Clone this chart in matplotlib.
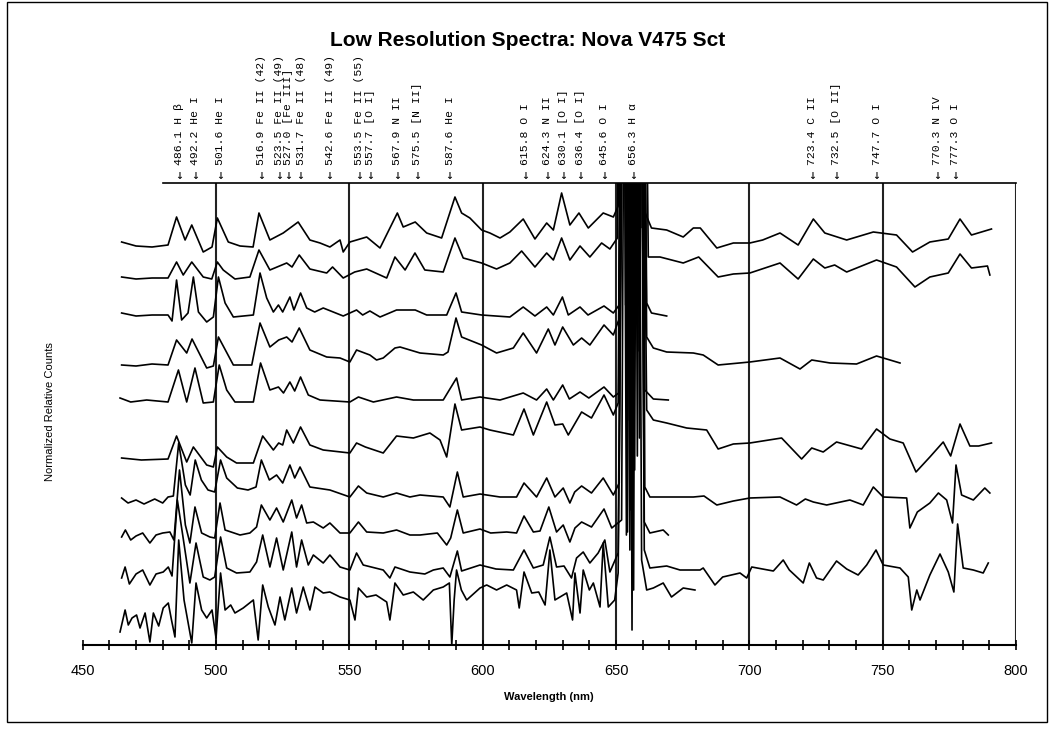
import numpy as np
import matplotlib
matplotlib.use("Agg")
import matplotlib.pyplot as plt
from matplotlib.patches import Rectangle
from matplotlib.ticker import MultipleLocator
from matplotlib.transforms import blended_transform_factory

plt.rcParams["font.family"] = ["Liberation Sans", "DejaVu Sans"]

title = "Low Resolution Spectra: Nova V475 Sct"

# identified emission lines (nm) and their labels
line_wl = [486.1, 492.2, 501.6, 516.9, 523.5, 527.0, 531.7, 542.6, 553.5, 557.7,
           567.9, 575.5, 587.6, 615.8, 624.3, 630.1, 636.4, 645.6, 656.3, 723.4,
           732.5, 747.7, 770.3, 777.3]
line_names = ["H \u03b2", "He I", "He I", "Fe II (42)", "Fe II (49)", "[Fe III]",
              "Fe II (48)", "Fe II (49)", "Fe II (55)", "[O I]", "N II", "[N II]",
              "He I", "O I", "N II", "[O I]", "[O I]", "O I", "H \u03b1", "C II",
              "[O II]", "O I", "N IV", "O I"]

# spectra, top to bottom: (wavelength nm, relative counts above own continuum)
spec_1 = [(464.6, 0.3), (470, -0.1), (476, -0.2), (482, 0.0), (485.2, 2.8), (488.4, 0.5),
          (490.9, 2.0), (495.2, -0.7), (498.5, -0.2), (500.5, 2.7), (504.6, 0.3), (509, -0.1),
          (513.9, -0.2), (516.1, 3.2), (520.2, 0.5), (525.2, 1.2), (530.8, 2.3), (535.2, 0.5),
          (539, 0.2), (542.7, -0.2), (546.5, 0.5), (547.7, -0.7), (550.2, 0.3), (556.5, 0.8),
          (561.5, -0.3), (568, 3.2), (570.2, 1.8), (574.7, 2.3), (579, 1.2), (584.6, 0.7),
          (589.6, 4.8), (592.1, 3.2), (595.2, 2.7), (599.6, 1.5), (602.7, 1.2), (606.5, 0.7),
          (610.2, 1.3), (615.2, 2.6), (619.6, 0.6), (624, 2.2), (626.5, 1.5), (629.6, 5.2),
          (632.7, 2.0), (636.1, 3.2), (639.6, 1.7), (645.2, 3.2), (649, 2.8), (651, 4.0),
          (652.2, 50), (653.8, 50), (654.5, 3.0), (655.2, 50), (656.4, 50), (657.0, -1.8),
          (657.6, 50), (659.3, 50), (660.8, 3.3),
          (663.3, 1.7), (669, 1.5), (675.2, 0.8), (679, 1.7), (681.6, 1.7), (687.8, -0.3),
          (694, 0.2), (700.2, 0.2), (705, 0.5), (711.5, 1.2), (718.3, 0.0), (724, 2.6),
          (728.3, 1.2), (736.5, 0.5), (746.5, 1.3), (755.2, 1.0), (761.2, -0.7), (767.7, 0.3),
          (774.6, 0.6), (779, 2.6), (783.3, 1.0), (790.8, 1.6)]

spec_2 = [(464.6, 0.1), (470, -0.1), (476, 0.0), (482, 0.0), (485.2, 1.6), (487.7, 0.3),
          (490.9, 1.6), (495.2, 0.1), (498.4, -0.1), (500.5, 1.6), (502.7, 0.8), (507.1, -0.1),
          (512.7, 0.1), (516.1, 2.8), (520.2, 0.8), (526.5, 1.5), (528.5, 1.1), (531.2, 2.3),
          (535.2, 0.9), (541.5, 0.5), (543.7, 1.1), (547.7, 0.0), (552, 0.6), (556.5, 0.9),
          (564, 0.0), (567.1, 2.1), (570.9, 0.8), (574.6, 2.5), (578.3, 0.8), (585.2, 0.6),
          (589.6, 4.0), (592.7, 2.0), (599.6, 1.5), (605.2, 0.9), (610.2, 1.5), (614.6, 2.7),
          (619.6, 1.1), (624, 2.5), (626.5, 1.8), (629.6, 4.0), (632.7, 1.8), (636.5, 3.2),
          (640.2, 2.1), (644.6, 3.5), (647.7, 2.9), (650.5, 4.0), (651.8, 50), (653.2, 50),
          (653.9, 1.0), (654.6, 50), (655.6, 50), (656.3, -2.2), (657.0, 50), (658.6, 50),
          (659.2, 5.0), (659.8, 50), (660.3, 50), (662.1, 2.1), (666.5, 2.1), (675.2, 1.5),
          (681, 2.1), (688.3, 0.1), (694, 0.4), (700.2, 0.5), (711.5, 1.5), (718.3, -0.1),
          (724, 1.9), (728.3, 1.0), (732, 1.3), (736.5, 0.6), (747.7, 1.8), (755.2, 1.1),
          (762.1, -0.9), (767.7, 0.1), (774.6, 0.5), (779, 2.4), (783.3, 1.0), (789.3, 1.2),
          (790.2, 0.3)]

spec_3 = [(464.6, 0.2), (470, -0.1), (476, 0.0), (482, 0.0), (483.5, -0.6), (485.2, 3.5),
          (487.1, -0.5), (489.5, 0.2), (491.5, 3.8), (493.4, 0.3), (496.5, -0.7), (499, -0.2),
          (500.9, 3.8), (503.4, 1.2), (506.5, -0.2), (514, 0.0), (516.5, 4.2), (519, 1.7),
          (521.5, 0.3), (523.4, 1.0), (525, 0.3), (527.7, 1.8), (529.2, 0.5), (531.7, 2.2),
          (534, 0.7), (537, 0.3), (540.2, 0.7), (547.7, -0.1), (552.7, 0.5), (555, 0.0),
          (557.7, 0.4), (561.5, -0.2), (567.7, 0.5), (574.7, 0.5), (579, 0.0), (586.5, 0.0),
          (590, 2.2), (592.1, 0.3), (599.6, 0.0), (610.2, -0.2), (615.2, 0.8), (619.6, -0.1),
          (624, 0.8), (626.5, 0.0), (629.9, 1.8), (632.1, 0.0), (636.5, 0.8), (639.5, 0.0),
          (645.5, 0.9), (649, 0.2), (651.2, 1.0), (652.4, 50), (654.0, 50), (654.8, -1.5),
          (655.6, 50), (657.8, 50), (658.4, 4.0), (659.0, 50), (660.0, 50), (661.5, 1.2),
          (663.3, 0.2), (669, -0.1)]

spec_4 = [(464.6, 0.0), (470, -0.1), (476, 0.1), (482, 0.0), (485.2, 2.5), (489, 1.2),
          (491, 2.6), (496.5, -0.3), (499, -0.1), (500.9, 2.8), (503.5, 1.5), (506.5, 0.0),
          (513.4, 0.0), (516.5, 4.2), (520.2, 1.8), (523.5, 2.5), (526.5, 2.8), (528.5, 2.3),
          (531.2, 3.7), (535.2, 1.5), (541.5, 0.8), (546.5, 0.7), (550.2, 0.3), (552.7, 1.5),
          (557.7, 1.0), (560.2, 0.5), (562.7, 0.7), (567.1, 1.7), (569, 1.8), (576.5, 1.2),
          (585.2, 1.0), (587, 1.3), (590, 4.7), (592.1, 2.8), (599.6, 2.0), (605.2, 1.2),
          (611.5, 1.7), (615.2, 3.2), (620.2, 1.2), (624.6, 3.6), (627.1, 2.0), (630, 3.8),
          (634, 2.0), (637.1, 2.7), (640.2, 2.0), (645.5, 4.0), (649, 3.0), (651, 4.5),
          (652.2, 50), (653.0, 50), (653.6, 6.0), (654.2, 50), (655.8, 50), (656.5, -1.5),
          (657.2, 50), (660.0, 50), (661.5, 2.8),
          (664, 1.7), (669, 1.3), (679, 1.2), (682.7, 1.0), (688.3, 0.0), (700.2, 0.3),
          (711.5, 0.7), (719, -0.4), (723.4, 0.5), (730.3, 0.2), (740.2, 0.1), (747.7, 0.9),
          (751.5, 0.6), (756.5, 0.2)]

spec_5 = [(464, 0.3), (468, -0.1), (474, 0.1), (482, -0.1), (485.9, 3.1), (489, -0.1),
          (492.1, 3.3), (495.2, -0.2), (499, -0.1), (501.2, 3.6), (504, 1.1), (507.1, -0.1),
          (514, -0.1), (516.7, 3.8), (520.2, 1.1), (523.4, 1.4), (525.3, 0.8), (527.7, 1.9),
          (529.5, 1.0), (531.7, 2.4), (534.6, 0.6), (539, 0.1), (550.2, -0.1), (553.4, 0.4),
          (559, -0.1), (567.7, 0.4), (574, 0.1), (585.2, 0.1), (590.2, 2.3), (592.1, 0.1),
          (599, 0.4), (606.5, 0.1), (615.2, 0.8), (620.2, 0.1), (624, 1.2), (626.5, 0.1),
          (630, 1.6), (632.5, 0.2), (636.5, 0.9), (639.8, 0.3), (645.5, 1.4), (649, 0.4),
          (651, 0.8), (652.6, 50), (654.2, 50), (655.0, -1.9), (655.7, 50), (657.5, 50),
          (658.2, 5.0), (658.8, 50), (659.8, 50), (660.8, 1.1), (664, 0.2), (669.6, 0.1)]

spec_6 = [(464.6, 0.0), (472, -0.2), (482, -0.1), (485.2, 2.2), (489, -0.4), (491.5, 1.1),
          (496.5, -0.7), (499, -0.9), (500.5, 1.1), (504, 0.1), (507.7, -0.5), (514, -0.5),
          (517.5, 2.2), (521.5, 0.8), (523.5, 1.5), (525, 1.3), (526.5, 2.8), (529, 1.5),
          (531.7, 3.1), (535.2, 1.3), (540.2, 0.8), (550.2, 0.5), (552.7, 1.5), (556, 1.1),
          (562.7, 0.5), (567.7, 2.2), (574, 2.0), (580.2, 2.5), (584, 1.8), (586.5, 0.1),
          (589.6, 5.4), (592.1, 2.8), (599, 3.1), (602.7, 2.8), (611.5, 2.3), (615.5, 4.9),
          (619, 2.3), (624, 5.6), (627.1, 3.3), (630, 3.4), (632.1, 2.3), (637.1, 4.6),
          (640.8, 4.0), (645.5, 6.3), (649, 4.3), (650.8, 5.5), (652.0, 50), (653.4, 50),
          (654.1, 3.0), (654.8, 50), (656.2, 50), (657.0, -1.2), (657.7, 50), (659.8, 50),
          (661.5, 4.8), (664, 3.8), (669, 3.5),
          (676.5, 3.0), (684, 2.8), (688.3, 0.9), (694, 1.4), (700.2, 1.5), (712.1, 2.0),
          (719.6, -0.1), (723.4, 1.0), (727.7, 0.6), (732.7, 1.6), (742.1, 0.9), (747.7, 2.9),
          (752.7, 1.9), (757.7, 1.5), (762.5, -1.4), (767.7, 0.1), (772.7, 1.6), (775.5, 0.2),
          (779, 3.4), (782.7, 1.2), (786, 1.2), (790.8, 1.5)]

spec_7 = [(464.6, 0.0), (467, -0.5), (470, -0.2), (473, -0.6), (477, -0.1), (480, -0.5),
          (482, 0.1), (484, 0.2), (486, 5.5), (488.5, 1.3), (490.3, 0.3), (492.2, 3.8),
          (494.5, 1.8), (497, 0.8), (499.5, 0.6), (501.7, 3.8), (504, 2.0), (508, 1.0),
          (512, 0.8), (515, 1.1), (517, 3.8), (520, 1.8), (522.7, 2.3), (525, 1.5),
          (527.7, 3.3), (529.5, 2.0), (531.5, 3.1), (535.2, 1.1), (542.7, 0.8), (550.2, 0.1),
          (553.4, 1.2), (556.5, 0.5), (562.7, 0.1), (567.7, 0.5), (572.7, 0.1), (576.5, 0.3),
          (585.2, 0.1), (587.7, -0.9), (590.5, 2.6), (592.7, 0.1), (599, 0.4), (606.5, 0.1),
          (612.7, 0.1), (615.5, 1.5), (620.2, 0.1), (624, 2.0), (627.1, 0.1), (630.2, 1.0),
          (632.7, -0.5), (634.5, 0.6), (637.1, 1.2), (640.8, 0.5), (645.2, 2.0), (649, 0.3),
          (651.2, 1.5), (652.4, 50), (655.0, 50), (655.6, -1.2), (656.2, 50), (658.2, 50),
          (658.8, 6.0), (659.4, 50), (660.0, 50), (660.8, 1.1), (662.7, 0.1), (669, 0.1),
          (679, 0.1), (683, 0.2), (687.8, -0.7),
          (694, -0.3), (700.2, 0.0), (711.5, 0.1), (717.7, -0.7), (721, -0.1), (724, -0.4),
          (729, -0.7), (737.7, -0.2), (742.7, -0.7), (746.5, 1.1), (750.2, 0.1), (759, 0.0),
          (760.2, -3.0), (763, -1.4), (767.7, -0.5), (770.9, 0.5), (774, -0.2), (776.2, -2.5),
          (777.5, 3.3), (779.6, 0.3), (784, -0.2), (788.3, 1.0), (790.2, 0.5)]

spec_8 = [(464.6, -0.1), (466, 0.6), (468, -0.4), (470, 0.0), (472.5, 0.3), (475.2, -0.7),
          (477.5, 0.1), (480, 0.3), (482.7, 0.4), (484.2, -0.4), (486.3, 6.6), (488.5, 1.1),
          (490.2, -0.7), (492.1, 2.9), (494.6, 0.3), (497.7, -0.1), (499.5, -0.2), (501.5, 3.3),
          (503.4, 0.6), (509, 0.1), (512.7, 0.3), (515.2, 0.9), (517, 3.1), (520.2, 1.6),
          (522.7, 2.8), (525.2, 1.4), (528.4, 3.6), (530.2, 1.8), (532.1, 3.1), (534, 1.3),
          (536.5, 1.4), (540.2, 0.8), (542.7, 1.3), (546.5, 0.3), (550.2, 0.3), (553.4, 1.4),
          (556.5, 0.4), (562.7, 0.3), (567.7, 0.6), (572.7, 0.1), (576.5, 0.1), (583, 0.3),
          (586.5, -0.9), (588, -0.2), (590.5, 2.6), (592.7, 0.3), (599, 0.7), (603, 0.3),
          (609, 0.4), (612.7, 0.3), (615.5, 2.0), (619, 0.4), (621.5, 0.5), (624.8, 2.9),
          (627.7, 0.4), (630.2, 1.1), (632.7, -0.6), (634.6, 0.8), (637.1, 1.4), (640.8, 0.9),
          (645.5, 2.7), (648.4, 0.8), (652.1, 1.6), (653.0, 50), (654.4, 50), (655.2, -1.4),
          (656.0, 50), (657.4, 50), (658.0, 8.0), (658.6, 50), (659.6, 50), (660.6, 1.4),
          (662.7, 0.3), (667.7, 0.6), (669.6, 0.1)]

spec_9 = [(464.6, -0.6), (465.9, 0.5), (467.5, -1.2), (470, -0.2), (472.5, 0.2), (475.2, -1.3),
          (477.5, -0.2), (480.2, 0.0), (482.1, 0.5), (483.5, -0.4), (485.5, 7.2), (487.5, 3.7),
          (490.2, -1.1), (492.5, 2.9), (495.2, -0.5), (497.7, -0.8), (499.5, -0.5), (501.7, 3.5),
          (504, 0.4), (507.7, -0.1), (512.7, 0.0), (515.2, 1.0), (517.5, 3.7), (520.2, 0.5),
          (522.7, 3.4), (525.2, 0.2), (528.4, 4.0), (530.2, 0.5), (532.1, 3.2), (534.6, 0.7),
          (536.5, 1.7), (540.2, 0.9), (542.7, 1.7), (546.5, 0.5), (550.2, 0.2), (552.7, 1.9),
          (555.2, 0.7), (562.7, 0.2), (565.2, -0.6), (567.1, 0.5), (572.7, 0.0), (578.3, -0.2),
          (581.5, 0.2), (585.2, 0.4), (587.7, -0.5), (590.5, 2.1), (592.1, 0.1), (599, 0.7),
          (605, 0.3), (611.5, 0.2), (615.5, 2.2), (619, 0.4), (622.7, 0.7), (625.2, 3.5),
          (627.7, 0.5), (630.5, 0.6), (633.3, -0.6), (635.2, 1.4), (637.7, 2.0), (640.2, 0.9),
          (643.3, 1.9), (645.8, 3.2), (647.7, 0.0), (650.8, 1.9), (652.2, 50), (653.6, 50),
          (654.3, 4.0), (655.0, 50), (656.0, 50), (656.6, -1.8), (657.2, 50), (659.5, 50),
          (660.6, 2.2), (662.7, 0.4), (669, 0.6),
          (674, 0.2), (681.5, 0.2), (682.7, 0.4), (687.1, -1.3), (690, -0.5), (696.5, -0.1),
          (699, -0.6), (700.9, 0.5), (709, 0.1), (712.7, 1.2), (715, 0.2), (720.2, -1.1),
          (722.5, 0.9), (725.2, -0.6), (727.7, -0.8), (732.7, 1.1), (736.5, 0.3), (740.8, -0.3),
          (744, 0.7), (747.5, 2.2), (750.2, 0.7), (756.5, 0.4), (759.6, -0.5), (760.9, -3.8),
          (762.8, -1.8), (764, -2.8), (767.7, -0.3), (771.5, 1.8), (774.6, 0.0), (776.7, -2.0),
          (778.1, 4.8), (780.2, 0.4), (784, 0.2), (787.7, -0.1), (789.6, 0.9)]

spec_10 = [(464, -1.7), (465.9, 0.5), (467.1, -1.0), (468.5, -0.3), (470.2, 0.0), (471.5, -1.3),
           (473.4, 0.2), (475.2, -2.7), (476.5, 0.2), (478.5, -1.1), (480.2, 0.7), (482.1, 1.2),
           (483.3, -0.5), (484.6, -2.2), (486, 7.5), (488, 1.5), (490.9, -2.8), (492.5, 3.2),
           (494.6, 0.5), (496.5, -0.3), (498.5, 0.5), (500, -2.3), (501.7, 4.2), (503.4, 0.5),
           (505.5, 1.0), (507.1, 0.2), (510.2, 0.7), (514, 1.5), (515.8, -2.5), (517.5, 3.0),
           (519.6, 0.8), (522.1, -1.0), (524, 1.8), (525.8, -0.5), (528.4, 2.7), (530.2, 0.2),
           (532.7, 2.8), (535.2, 0.5), (537.1, 2.8), (540.2, 2.2), (542.7, 2.3), (546.5, 1.8),
           (550.2, 1.5), (552.1, -0.5), (553.4, 2.7), (556.5, 1.8), (560, 2.0), (564, 1.3),
           (565.2, -0.5), (567.1, 3.2), (570.2, 2.0), (574, 2.3), (577.7, 1.5), (581.5, 2.5),
           (585.2, 2.8), (587.5, 3.2), (588.4, -3.0), (589.3, 1.5), (590.2, 4.5), (592, 2.5),
           (594, 1.5), (599, 2.7), (601.5, 3.0), (605.2, 2.5), (609, 3.0), (612.7, 2.5),
           (613.7, 0.7), (615.5, 4.3), (618.4, 2.2), (621, 2.3), (623.4, 1.0), (625.2, 6.5),
           (627.1, 1.5), (631.5, 2.2), (633.7, -0.5), (634.6, 4.2), (636.5, 0.2), (637.7, 4.5),
           (640, 2.5), (641.5, 3.2), (644, 0.8), (645.2, 7.2), (647.1, 0.8), (649.5, 1.5),
           (650.8, 4.2), (652.4, 50), (653.2, 50), (653.9, 8.0), (654.6, 50), (655.4, 50),
           (656.0, -1.5), (656.6, 50), (658.8, 50), (659.6, 5.5), (661.5, 2.5), (664, 2.7),
           (667.7, 3.2), (670.8, 1.8), (675.2, 2.7), (679.6, 2.5)]

spectra = [spec_1, spec_2, spec_3, spec_4, spec_5, spec_6, spec_7, spec_8, spec_9, spec_10]
offsets = [40.0, 36.7, 33.0, 28.0, 24.4, 18.7, 14.7, 10.9, 7.3, 3.0]

W, H = 1054, 729
fig = plt.figure(figsize=(W / 100, H / 100), dpi=100)
ax = fig.add_axes([82.7 / W, 84 / H, (1016 - 82.7) / W, 462 / H])

for spec, off in zip(spectra, offsets):
    wl, flux = np.array(spec).T
    ax.plot(wl, flux + off, color="black", lw=1.2)

ax.set_xlim(450, 800)
ax.set_ylim(0, 46.2)
for x in range(500, 801, 50):
    ax.axvline(x, color="#222222", lw=1.5, zorder=1)
ax.axhline(46.2, xmin=30 / 350, color="black", lw=1.2, clip_on=False)

for side in ["left", "top", "right"]:
    ax.spines[side].set_visible(False)
ax.spines["bottom"].set_linewidth(1.5)
ax.set_yticks([])
ax.set_xticks(range(450, 801, 50))
ax.xaxis.set_minor_locator(MultipleLocator(10))
ax.tick_params(axis="x", which="both", direction="inout", length=7, width=1.2, labelsize=10.5, pad=10)

fig.text(528 / W, 1 - 40 / H, title, ha="center", va="center", fontsize=15, fontweight="bold")
fig.text(549 / W, 1 - 697 / H, "Wavelength (nm)", ha="center", va="center", fontsize=8, fontweight="bold")
fig.text(50 / W, 1 - 412 / H, "Normalized Relative Counts", ha="center", va="center", fontsize=8, rotation=90)

# line identifications above the plot
trans = blended_transform_factory(ax.transData, ax.transAxes)
mono = ["Liberation Mono", "DejaVu Sans Mono"]
for wl, name in zip(line_wl, line_names):
    ax.text(wl, 1.039, f"{wl:.1f} {name}", transform=trans, rotation=90, ha="center", va="bottom",
            family=mono, fontsize=8.2)
    ax.text(wl, 1.016, "\u2193", transform=trans, ha="center", va="center",
            family=["DejaVu Sans Mono"], fontsize=9.5)

fig.patches.append(Rectangle((7 / W, 7 / H), 1040 / W, 720 / H, transform=fig.transFigure,
                             fill=False, ec="black", lw=1))

fig.savefig("out.png", dpi=100)
